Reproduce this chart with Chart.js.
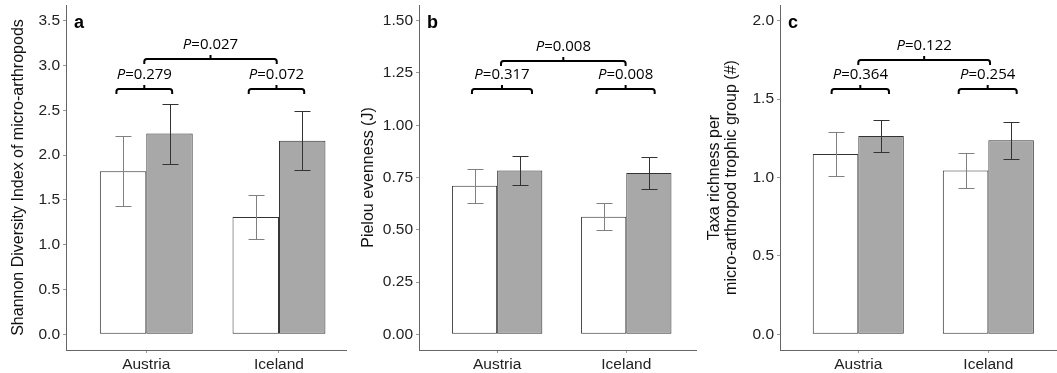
<!DOCTYPE html>
<html>
<head>
<meta charset="utf-8">
<script src="https://cdn.jsdelivr.net/npm/chart.js@4.4.0/dist/chart.umd.min.js"></script>
<style>
  body { margin: 0; background: #fff; width: 1057px; height: 373px; position: relative; overflow: hidden; }
  canvas { position: absolute; top: 0; }
</style>
</head>
<body>
<canvas id="chartA" width="355" height="373" style="left:0px"></canvas>
<canvas id="chartB" width="350" height="373" style="left:355px"></canvas>
<canvas id="chartC" width="352" height="373" style="left:705px"></canvas>
<script>
const categories = ['Austria', 'Iceland'];

// a: Shannon diversity
const shannonWhite = [1.82, 1.31];
const shannonWhiteErr = [0.39, 0.25];
const shannonGrey = [2.24, 2.16];
const shannonGreyErr = [0.335, 0.33];
const shannonTicks = [0, 0.5, 1, 1.5, 2, 2.5, 3, 3.5];
const shannonP = ['0.279', '0.072', '0.027'];
const shannonBracketLevel = [2.74, 2.74, 3.075];
const shannonBracketSpan = [[0.775, 1.195], [1.772, 2.19], [0.985, 1.983]];

// b: Pielou evenness
const pielouWhite = [0.711, 0.562];
const pielouWhiteErr = [0.082, 0.064];
const pielouGrey = [0.783, 0.771];
const pielouGreyErr = [0.068, 0.077];
const pielouTicks = [0, 0.25, 0.5, 0.75, 1, 1.25, 1.5];
const pielouP = ['0.317', '0.008', '0.008'];
const pielouBracketLevel = [1.172, 1.172, 1.308];
const pielouBracketSpan = [[0.805, 1.27], [1.77, 2.22], [1.03, 1.995]];

// c: taxa richness
const taxaWhite = [1.15, 1.045];
const taxaWhiteErr = [0.139, 0.112];
const taxaGrey = [1.265, 1.237];
const taxaGreyErr = [0.104, 0.116];
const taxaTicks = [0, 0.5, 1, 1.5, 2];
const taxaP = ['0.364', '0.254', '0.122'];
const taxaBracketLevel = [1.565, 1.565, 1.749];
const taxaBracketSpan = [[0.795, 1.236], [1.772, 2.218], [1.0, 2.013]];

const SANS = "'Liberation Sans', Arial, sans-serif";

const errorBars = {
  id: 'errorBars',
  afterDatasetsDraw(chart, args, opts) {
    const ctx = chart.ctx;
    const y = chart.scales.y;
    chart.data.datasets.forEach((ds, di) => {
      const meta = chart.getDatasetMeta(di);
      const errs = opts.errors[di];
      ctx.save();
      ctx.strokeStyle = opts.colors[di];
      ctx.lineWidth = 1;
      meta.data.forEach((bar, i) => {
        const v = ds.data[i].y;
        const hi = Math.round(y.getPixelForValue(v + errs[i])) + 0.5;
        const lo = Math.round(y.getPixelForValue(v - errs[i])) + 0.5;
        const x = Math.round(bar.x) + 0.5;
        ctx.beginPath();
        ctx.moveTo(x, hi); ctx.lineTo(x, lo);
        ctx.moveTo(x - 8, hi); ctx.lineTo(x + 8, hi);
        ctx.moveTo(x - 8, lo); ctx.lineTo(x + 8, lo);
        ctx.stroke();
      });
      ctx.restore();
    });
  }
};

const brackets = {
  id: 'brackets',
  afterDatasetsDraw(chart, args, opts) {
    const { ctx, chartArea } = chart;
    const x = chart.scales.x, y = chart.scales.y;
    ctx.save();
    ctx.strokeStyle = '#000';
    ctx.lineWidth = 2;
    ctx.lineJoin = 'round';
    opts.spans.forEach((s, i) => {
      const x0 = x.getPixelForValue(s[0]);
      const x1 = x.getPixelForValue(s[1]);
      const py = Math.round(y.getPixelForValue(opts.levels[i]));
      const xm = (x0 + x1) / 2;
      ctx.beginPath();
      ctx.moveTo(x0, py + 5);
      ctx.lineTo(x0, py + 2.5);
      ctx.quadraticCurveTo(x0, py, x0 + 2.5, py);
      ctx.lineTo(x1 - 2.5, py);
      ctx.quadraticCurveTo(x1, py, x1, py + 2.5);
      ctx.lineTo(x1, py + 5);
      ctx.moveTo(xm, py);
      ctx.lineTo(xm, py - 4);
      ctx.stroke();

      // label: italic P, then "=value"
      const fIt = "italic 15px 'Open Sans', sans-serif";
      const fUp = "15px 'Open Sans', sans-serif";
      const rest = '=' + opts.labels[i];
      ctx.font = fIt; const wP = ctx.measureText('P').width;
      ctx.font = fUp; const wR = ctx.measureText(rest).width;
      const start = xm - (wP + wR) / 2;
      const ty = py - 14;
      ctx.fillStyle = '#000';
      ctx.textBaseline = 'middle';
      ctx.textAlign = 'left';
      ctx.font = fIt; ctx.fillText('P', start, ty);
      ctx.font = fUp; ctx.fillText(rest, start + wP, ty);
    });
    // panel letter
    ctx.font = 'bold 18px ' + SANS;
    ctx.fillStyle = '#000';
    ctx.textBaseline = 'alphabetic';
    ctx.textAlign = 'left';
    ctx.fillText(opts.letter, chartArea.left + 8, chartArea.top + 23);
    ctx.restore();
  }
};

function panel(id, o) {
  const tickFont = { family: SANS, size: 15.5 };
  return new Chart(document.getElementById(id), {
    type: 'bar',
    data: {
      datasets: [
        {
          data: categories.map((c, i) => ({ x: i + 1, y: o.white[i] })),
          backgroundColor: '#ffffff', borderColor: '#333333', borderWidth: 1, borderSkipped: false
        },
        {
          data: categories.map((c, i) => ({ x: i + 1, y: o.grey[i] })),
          backgroundColor: '#a8a8a8', borderColor: '#333333', borderWidth: 1, borderSkipped: false
        }
      ]
    },
    options: {
      responsive: false,
      animation: false,
      layout: { padding: { top: 5, right: o.padRight, left: 0, bottom: 0 } },
      datasets: { bar: { categoryPercentage: 0.7, barPercentage: 1 } },
      plugins: {
        legend: { display: false },
        tooltip: { enabled: false },
        errorBars: { errors: [o.whiteErr, o.greyErr], colors: ['#808080', '#333333'] },
        brackets: { spans: o.spans, levels: o.levels, labels: o.labels, letter: o.letter }
      },
      scales: {
        x: {
          type: 'linear',
          offset: false,
          min: o.xMin, max: o.xMax,
          afterBuildTicks: s => { s.ticks = categories.map((c, i) => ({ value: i + 1 })); },
          afterFit: s => { s.height = 23; s.paddingLeft = 0; s.paddingRight = 0; },
          ticks: { callback: v => categories[v - 1], font: tickFont, color: '#222', padding: 2, maxRotation: 0, autoSkip: false },
          grid: { offset: false, drawOnChartArea: false, tickLength: 3, color: '#999' },
          border: { color: '#666' }
        },
        y: {
          min: o.yMin, max: o.yMax,
          afterBuildTicks: s => { s.ticks = o.yTicks.map(v => ({ value: v })); },
          afterFit: s => { s.width = o.axisLeft; s.paddingTop = 0; s.paddingBottom = 0; },
          ticks: { callback: v => v.toFixed(o.decimals), font: tickFont, color: '#222', padding: 3 },
          grid: { drawOnChartArea: false, tickLength: 3, color: '#999' },
          border: { color: '#666' },
          title: {
            display: true, text: o.title, color: '#111',
            font: { family: SANS, size: 16, lineHeight: o.titleLH },
            padding: { top: o.titlePad, bottom: 0 }
          }
        }
      }
    },
    plugins: [errorBars, brackets]
  });
}

panel('chartA', {
  white: shannonWhite, whiteErr: shannonWhiteErr, grey: shannonGrey, greyErr: shannonGreyErr,
  yTicks: shannonTicks, yMin: -0.175, yMax: 3.675, decimals: 1,
  xMin: 0.395, xMax: 2.505, axisLeft: 66, padRight: 9,
  title: 'Shannon Diversity Index of micro-arthropods', titleLH: 1.2, titlePad: 9.4,
  spans: shannonBracketSpan, levels: shannonBracketLevel, labels: shannonP, letter: 'a'
});

panel('chartB', {
  white: pielouWhite, whiteErr: pielouWhiteErr, grey: pielouGrey, greyErr: pielouGreyErr,
  yTicks: pielouTicks, yMin: -0.075, yMax: 1.575, decimals: 2,
  xMin: 0.395, xMax: 2.54, axisLeft: 64, padRight: 9,
  title: 'Pielou evenness (J)', titleLH: 1.2, titlePad: 3.7,
  spans: pielouBracketSpan, levels: pielouBracketLevel, labels: pielouP, letter: 'b'
});

panel('chartC', {
  white: taxaWhite, whiteErr: taxaWhiteErr, grey: taxaGrey, greyErr: taxaGreyErr,
  yTicks: taxaTicks, yMin: -0.1, yMax: 2.1, decimals: 1,
  xMin: 0.398, xMax: 2.528, axisLeft: 75, padRight: 0,
  title: ['Taxa richness per', 'micro-arthropod trophic group (#)'], titleLH: 1.05, titlePad: 1.6,
  spans: taxaBracketSpan, levels: taxaBracketLevel, labels: taxaP, letter: 'c'
});
</script>
</body>
</html>
